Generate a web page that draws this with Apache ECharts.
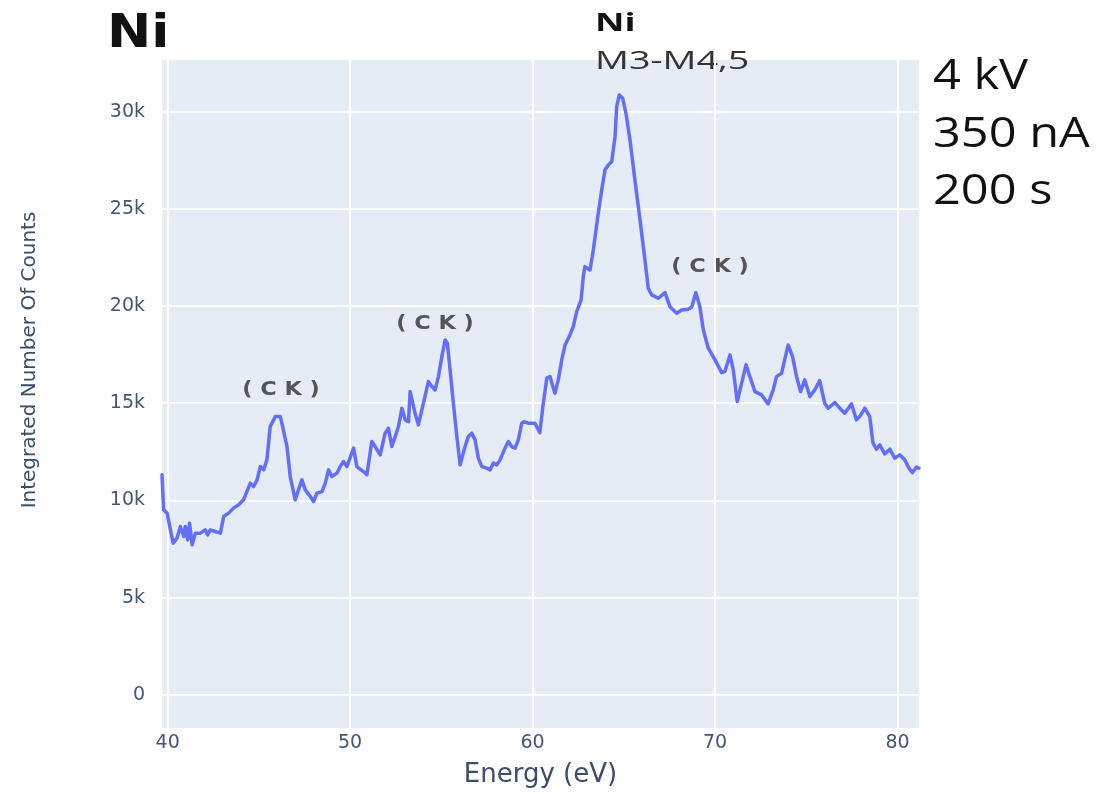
<!DOCTYPE html>
<html>
<head>
<meta charset="utf-8">
<script src="https://cdn.jsdelivr.net/npm/echarts@6/dist/echarts.min.js"></script>
<style>
html,body{margin:0;padding:0;background:#fff;}
#chart{width:1099px;height:794px;}
</style>
</head>
<body>
<div id="chart"></div>
<script>
// Energy (eV) of each sample of the spectrum
const energy = [
39.69,39.78,39.97,40.30,40.51,40.70,40.88,40.97,41.10,41.20,41.34,41.52,41.79,42.06,42.19,42.34,42.61,42.89,
43.07,43.34,43.61,43.89,44.16,44.53,44.71,44.90,45.08,45.26,45.44,45.62,45.90,46.17,46.26,46.54,46.72,46.99,
47.17,47.36,47.54,47.82,48.00,48.18,48.46,48.64,48.82,49.00,49.28,49.46,49.64,49.82,50.19,50.37,50.73,50.92,
51.19,51.37,51.65,51.92,52.10,52.29,52.38,52.65,52.84,53.02,53.20,53.29,53.56,53.74,54.02,54.29,54.48,54.66,
54.84,55.03,55.21,55.33,55.48,55.66,55.85,56.03,56.12,56.30,56.48,56.67,56.85,57.03,57.22,57.49,57.67,57.85,
58.04,58.22,58.49,58.67,58.86,59.04,59.22,59.41,59.53,59.75,60.13,60.40,60.57,60.78,60.96,61.14,61.23,61.41,
61.60,61.78,62.05,62.23,62.42,62.66,62.78,62.87,63.15,63.33,63.60,63.79,63.97,64.15,64.34,64.52,64.61,64.75,
64.94,65.12,65.34,65.61,65.89,66.16,66.34,66.53,66.89,67.26,67.53,67.90,68.17,68.53,68.72,68.95,69.17,69.36,
69.63,70.00,70.36,70.54,70.82,71.00,71.22,71.46,71.70,71.91,72.19,72.55,72.91,73.19,73.37,73.65,74.01,74.25,
74.47,74.69,74.92,75.20,75.47,75.74,76.01,76.20,76.57,76.84,77.11,77.48,77.75,77.93,78.21,78.48,78.66,78.85,
79.03,79.30,79.58,79.85,80.12,80.40,80.63,80.82,81.04,81.18
];
// Integrated number of counts at each energy
const counts = [
11315,9515,9345,7802,8059,8656,8141,8656,7972,8831,7715,8316,8316,8486,8229,8486,8399,8316,
9170,9345,9602,9772,10029,10888,10713,11057,11741,11572,12086,13799,14313,14313,13973,12770,11227,10029,
10543,11057,10543,10199,9941,10373,10456,10888,11572,11227,11402,11741,11999,11741,12688,11741,11484,11315,
13027,12770,12343,13459,13716,12770,12688,13799,14745,14143,14056,15599,14488,13886,15002,16113,15856,15686,
16370,17399,18258,18088,16715,15002,13284,11829,11741,12770,13284,13459,13115,12174,11741,11659,11572,11916,
11829,12086,12688,13027,12770,12688,13115,13973,14056,13973,13973,13490,14863,16288,16370,15774,15516,16200,
17229,18001,18515,18942,19713,20315,21513,22028,21858,22886,24774,25972,27001,27258,27428,28714,30257,30858,
30688,29917,28544,26486,24429,22372,20917,20572,20402,20691,19970,19631,19801,19837,19939,20691,19970,18772,
17831,17229,16576,16627,17486,16715,15085,16031,16972,16370,15599,15429,14966,15686,16370,16545,18001,17399,
16370,15599,16200,15342,15686,16165,15002,14745,15033,14745,14488,14966,14143,14313,14745,14313,12945,12636,
12858,12395,12636,12174,12343,12086,11659,11433,11711,11659
];
const xTicks = [40, 50, 60, 70, 80];
const yTicks = [0, 5000, 10000, 15000, 20000, 25000, 30000];
const xRange = [39.69, 81.18];
const yRange = [-1710, 32660];
const ckLabel = '( C K )';
const sideNotes = ['4 kV', '350 nA', '200 s'];

const chart = echarts.init(document.getElementById('chart'), null, {renderer: 'canvas'});
const tickColor = '#44557a';
const nameColor = '#3b4d6b';
const option = {
  backgroundColor: '#ffffff',
  animation: false,
  grid: {left: 162, right: 180, top: 60, bottom: 66, show: true, backgroundColor: '#E5ECF6', borderWidth: 0},
  xAxis: {
    type: 'value', min: xRange[0], max: xRange[1],
    name: 'Energy (eV)', nameLocation: 'middle', nameGap: 34,
    nameTextStyle: {fontFamily: 'DejaVu Sans', fontSize: 26, color: nameColor},
    axisLine: {show: false},
    axisTick: {show: false, customValues: xTicks},
    axisLabel: {customValues: xTicks, fontFamily: 'DejaVu Sans', fontSize: 19, color: tickColor, margin: 6},
    splitLine: {show: true, lineStyle: {color: '#ffffff', width: 2}}
  },
  yAxis: {
    type: 'value', min: yRange[0], max: yRange[1],
    name: 'Integrated Number Of Counts', nameLocation: 'middle', nameGap: 122, nameRotate: 90,
    nameTextStyle: {fontFamily: 'DejaVu Sans', fontSize: 20, color: nameColor, padding: [0, 0, 0, 68]},
    axisLine: {show: false},
    axisTick: {show: false, customValues: yTicks},
    axisLabel: {customValues: yTicks, fontFamily: 'DejaVu Sans', fontSize: 19, color: tickColor, margin: 17,
      formatter: v => v === 0 ? '0' : (v / 1000) + 'k'},
    splitLine: {show: true, lineStyle: {color: '#ffffff', width: 2}}
  },
  series: [{
    type: 'line',
    data: energy.map((e, i) => [e, counts[i]]),
    showSymbol: false,
    clip: true,
    lineStyle: {color: '#636EFA', width: 3.5, join: 'round', cap: 'round'},
    itemStyle: {color: '#636EFA'}
  }],
  graphic: [
    {type: 'text', x: 107, y: 35, scaleX: 1.15,
      style: {text: 'Ni', fontFamily: 'DejaVu Sans', fontWeight: 'bold', fontSize: 46, fill: '#111',
        textAlign: 'left', textVerticalAlign: 'middle', align: 'left', verticalAlign: 'middle'}},
    {type: 'text', x: 595, y: 24, scaleX: 1.45,
      style: {text: 'Ni', fontFamily: 'Open Sans', fontWeight: 'bold', fontSize: 25, fill: '#111',
        textAlign: 'left', textVerticalAlign: 'middle', align: 'left', verticalAlign: 'middle'}},
    {type: 'text', x: 595, y: 62, scaleX: 1.45,
      style: {text: 'M3-M4,5', fontFamily: 'Open Sans', fontSize: 26, fill: '#333',
        textAlign: 'left', textVerticalAlign: 'middle', align: 'left', verticalAlign: 'middle'}},
    {type: 'text', x: 281, y: 390, scaleX: 1.18,
      style: {text: ckLabel, fontFamily: 'DejaVu Sans', fontWeight: 'bold', fontSize: 19, fill: '#555',
        textAlign: 'center', textVerticalAlign: 'middle', align: 'center', verticalAlign: 'middle'}},
    {type: 'text', x: 435, y: 324, scaleX: 1.18,
      style: {text: ckLabel, fontFamily: 'DejaVu Sans', fontWeight: 'bold', fontSize: 19, fill: '#555',
        textAlign: 'center', textVerticalAlign: 'middle', align: 'center', verticalAlign: 'middle'}},
    {type: 'text', x: 710, y: 267, scaleX: 1.18,
      style: {text: ckLabel, fontFamily: 'DejaVu Sans', fontWeight: 'bold', fontSize: 19, fill: '#555',
        textAlign: 'center', textVerticalAlign: 'middle', align: 'center', verticalAlign: 'middle'}},
    {type: 'text', x: 933, y: 77, scaleX: 1.16,
      style: {text: sideNotes[0], fontFamily: 'Open Sans', fontSize: 42, fill: '#111',
        textAlign: 'left', textVerticalAlign: 'middle', align: 'left', verticalAlign: 'middle'}},
    {type: 'text', x: 933, y: 135, scaleX: 1.16,
      style: {text: sideNotes[1], fontFamily: 'Open Sans', fontSize: 42, fill: '#111',
        textAlign: 'left', textVerticalAlign: 'middle', align: 'left', verticalAlign: 'middle'}},
    {type: 'text', x: 933, y: 192, scaleX: 1.16,
      style: {text: sideNotes[2], fontFamily: 'Open Sans', fontSize: 42, fill: '#111',
        textAlign: 'left', textVerticalAlign: 'middle', align: 'left', verticalAlign: 'middle'}}
  ]
};
chart.setOption(option);
</script>
</body>
</html>
